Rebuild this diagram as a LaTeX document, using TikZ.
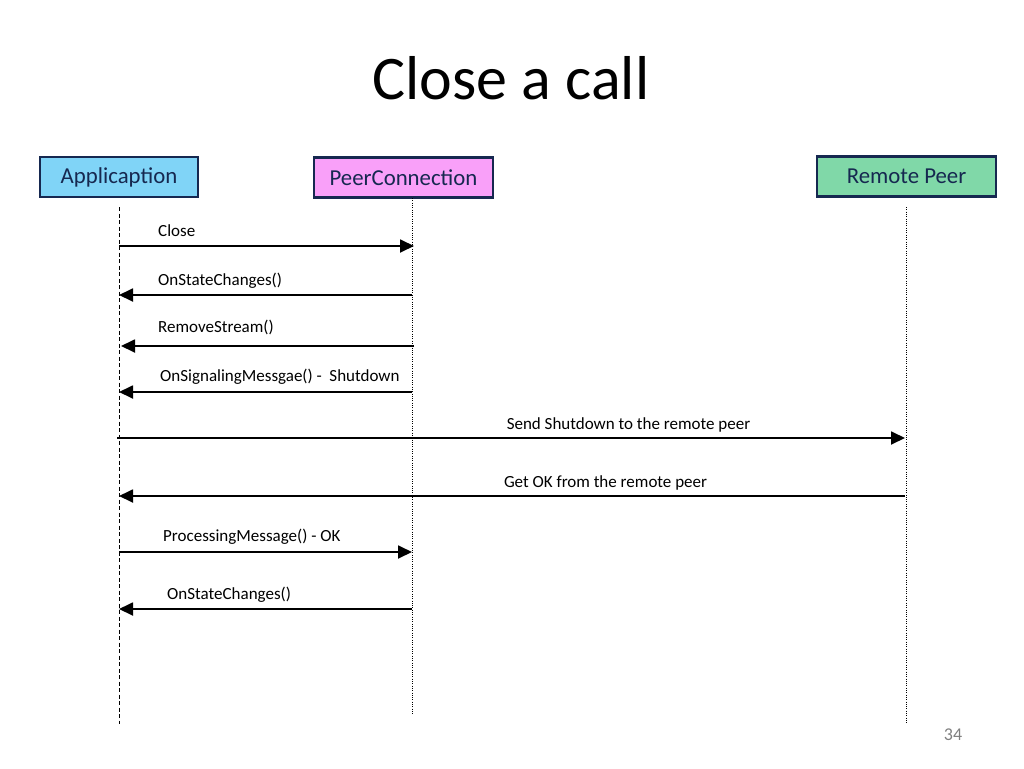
\documentclass[tikz,border=0pt]{standalone}
\usepackage{fontspec}
\setmainfont{Carlito}
\usetikzlibrary{arrows.meta}
\definecolor{navy}{RGB}{22,40,80}
\definecolor{appblue}{RGB}{128,212,247}
\definecolor{pcpink}{RGB}{249,160,249}
\definecolor{rpgreen}{RGB}{128,216,168}
\begin{document}
\begin{tikzpicture}[x=1pt,y=-1pt,
  actor/.style={draw=navy,line width=2.4pt,minimum height=40pt,text=navy,font=\fontsize{22.8}{26}\selectfont,inner sep=0pt},
  msg/.style={line width=1.8pt,-{Triangle[length=14pt,width=13pt]}},
  lbl/.style={anchor=base west,font=\fontsize{17}{20}\selectfont,inner sep=0pt},
  lblc/.style={anchor=base,font=\fontsize{17}{20}\selectfont,inner sep=0pt},
  life/.style={line width=0.8pt}]
\useasboundingbox (0,0) rectangle (1024,768);
\fill[white] (0,0) rectangle (1024,768);
\node[font=\fontsize{62}{70}\selectfont,anchor=base,inner sep=0pt] (title) at (511,99) {Close a call};
\node[actor,fill=appblue,minimum width=158pt] (app) at (119,177) {Applicaption};
\node[actor,fill=pcpink,minimum width=179pt] (pc) at (403.5,177.5) {PeerConnection};
\node[actor,fill=rpgreen,minimum width=179pt] (rp) at (906.5,176.5) {Remote Peer};
% lifelines
\coordinate (appT) at (119,207); \coordinate (appB) at (119,724);
\coordinate (pcT) at (412,198); \coordinate (pcB) at (412,715);
\coordinate (rpT) at (906,207); \coordinate (rpB) at (906,724);
\draw[life,dash pattern=on 4pt off 2.5pt] (appT) -- (appB);
\draw[life,dash pattern=on 1pt off 1.3pt] (pcT) -- (pcB);
\draw[life,dash pattern=on 1pt off 1.3pt] (rpT) -- (rpB);
% message endpoints
\coordinate (a1) at (119,246); \coordinate (p1) at (414,246);
\coordinate (a2) at (119,295); \coordinate (p2) at (412,295);
\coordinate (a3) at (121,346); \coordinate (p3) at (414,346);
\coordinate (a4) at (119,392); \coordinate (p4) at (412,392);
\coordinate (a5) at (117,438); \coordinate (r5) at (905,438);
\coordinate (a6) at (119,496); \coordinate (r6) at (905,496);
\coordinate (a7) at (119,552); \coordinate (p7) at (412,552);
\coordinate (a8) at (119,609); \coordinate (p8) at (412,609);
\draw[msg] (a1) -- (p1);
\draw[msg] (p2) -- (a2);
\draw[msg] (p3) -- (a3);
\draw[msg] (p4) -- (a4);
\draw[msg] (a5) -- (r5);
\draw[msg] (r6) -- (a6);
\draw[msg] (a7) -- (p7);
\draw[msg] (p8) -- (a8);
\node[lbl] (l1) at (158,236) {Close};
\node[lbl] (l2) at (158,285) {OnStateChanges()};
\node[lbl] (l3) at (158,332) {RemoveStream()};
\node[lbl] (l4) at (160,381) {OnSignalingMessgae() -\ \ Shutdown};
\node[lblc] (l5) at (628.5,429) {Send Shutdown to the remote peer};
\node[lblc] (l6) at (605.5,487) {Get OK from the remote peer};
\node[lbl] (l7) at (163,541) {ProcessingMessage() - OK};
\node[lbl] (l8) at (167,599) {OnStateChanges()};
\node[anchor=base,font=\fontsize{18}{20}\selectfont,text=gray,inner sep=0pt] (pg) at (953,740) {34};
\end{tikzpicture}
\end{document}
